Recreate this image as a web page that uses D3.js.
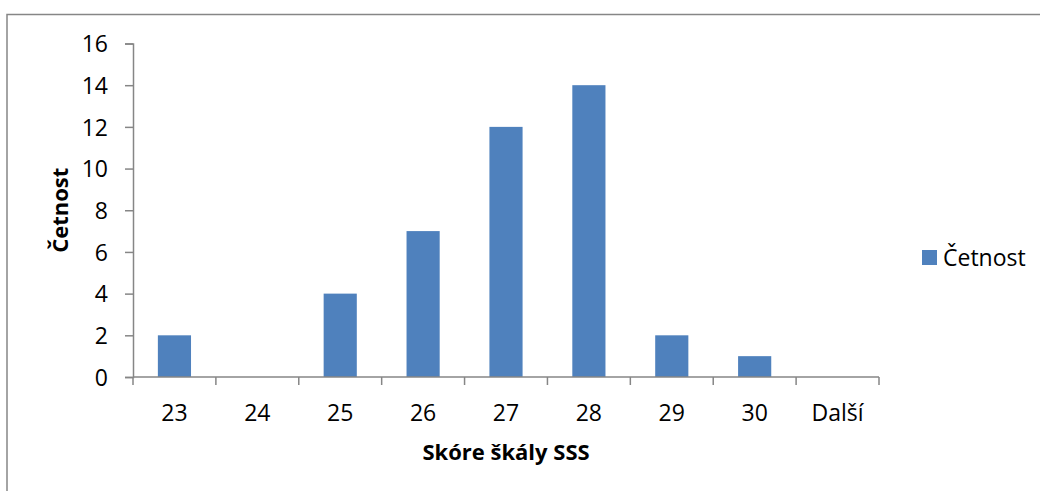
<!DOCTYPE html>
<html>
<head>
<meta charset="utf-8">
<script src="https://cdn.jsdelivr.net/npm/d3@7"></script>
<style>
  body { margin: 0; background: #fff; }
  text { font-family: "Open Sans", sans-serif; fill: #000; }
</style>
</head>
<body>
<div id="chart"></div>
<script>
// data
const categories = ['23', '24', '25', '26', '27', '28', '29', '30', 'Další'];
const counts = [2, 0, 4, 7, 12, 14, 2, 1, 0];
const yTicks = [0, 2, 4, 6, 8, 10, 12, 14, 16];
const seriesName = 'Četnost';
const xTitle = 'Skóre škály SSS';
const yTitle = 'Četnost';

const W = 1040, H = 491;
const margin = {top: 43.5, right: 161, bottom: 114, left: 133};
const width = W - margin.left - margin.right;
const height = H - margin.top - margin.bottom;
const axisColor = '#868686';
const barColor = '#4F81BD';

const svg = d3.select('#chart').append('svg')
  .attr('width', W)
  .attr('height', H);

// chart frame (cropped at right and bottom)
svg.append('path')
  .attr('d', `M7,${H + 2}V14.5H${W + 2}`)
  .attr('fill', 'none')
  .attr('stroke', axisColor)
  .attr('stroke-width', 1.5);

const g = svg.append('g')
  .attr('transform', `translate(${margin.left},${margin.top})`);

const x = d3.scaleBand()
  .domain(categories)
  .range([0, width])
  .paddingInner(0.6)
  .paddingOuter(0.3);

const y = d3.scaleLinear()
  .domain([0, 16])
  .range([height, 0]);

const step = x.step();

// bars
g.selectAll('.bar')
  .data(counts)
  .enter().append('rect')
  .attr('class', 'bar')
  .attr('x', (d, i) => x(categories[i]))
  .attr('y', d => y(d))
  .attr('width', x.bandwidth())
  .attr('height', d => height - y(d))
  .attr('fill', barColor);

// y axis
const yAxis = g.append('g')
  .call(d3.axisLeft(y).tickValues(yTicks).tickSize(8).tickPadding(17));
yAxis.select('.domain').attr('stroke', axisColor).attr('stroke-width', 1.5);
yAxis.selectAll('.tick line').attr('stroke', axisColor).attr('stroke-width', 1.5);
yAxis.selectAll('.tick text')
  .style('font-size', '23px')
  .attr('dy', '0.36em');

// x axis: ticks at band boundaries
const xAxis = g.append('g')
  .attr('transform', `translate(0,${height})`);
xAxis.append('line')
  .attr('x1', 0).attr('x2', width)
  .attr('stroke', axisColor).attr('stroke-width', 1.5);
xAxis.selectAll('.xtick')
  .data(d3.range(categories.length + 1))
  .enter().append('line')
  .attr('x1', i => i * step).attr('x2', i => i * step)
  .attr('y1', 0).attr('y2', 8)
  .attr('stroke', axisColor).attr('stroke-width', 1.5);
xAxis.selectAll('.xlabel')
  .data(categories)
  .enter().append('text')
  .attr('x', d => x(d) + x.bandwidth() / 2)
  .attr('y', 36)
  .attr('dy', '0.36em')
  .attr('text-anchor', 'middle')
  .style('font-size', '23px')
  .text(d => d);

// axis titles
g.append('text')
  .attr('x', width / 2)
  .attr('y', height + 75)
  .attr('dy', '0.36em')
  .attr('text-anchor', 'middle')
  .style('font-size', '22px')
  .style('font-weight', 'bold')
  .text(xTitle);

g.append('text')
  .attr('transform', `translate(${60 - margin.left},${height / 2}) rotate(-90)`)
  .attr('dy', '0.36em')
  .attr('text-anchor', 'middle')
  .style('font-size', '22px')
  .style('font-weight', 'bold')
  .text(yTitle);

// legend
const legend = svg.append('g')
  .attr('transform', 'translate(922,250)');
legend.append('rect')
  .attr('width', 15)
  .attr('height', 15)
  .attr('fill', barColor);
legend.append('text')
  .attr('x', 21)
  .attr('y', 7.5)
  .attr('dy', '0.36em')
  .style('font-size', '23px')
  .text(seriesName);
</script>
</body>
</html>
